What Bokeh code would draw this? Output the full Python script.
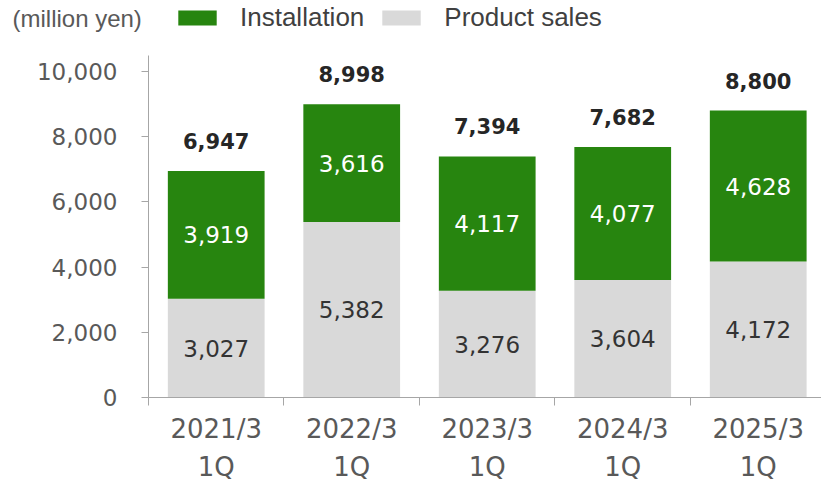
from bokeh.plotting import figure
from bokeh.models import (Range1d, FixedTicker, Legend, LegendItem, Label,
                          ColumnDataSource, NumeralTickFormatter)
from bokeh.core.properties import value
from bokeh.embed import file_html
from bokeh.resources import INLINE

# ---- data ----
periods = ["2021/3\n1Q", "2022/3\n1Q", "2023/3\n1Q", "2024/3\n1Q", "2025/3\n1Q"]
product_sales = [3027, 5382, 3276, 3604, 4172]
installation = [3919, 3616, 4117, 4077, 4628]
totals = [6947, 8998, 7394, 7682, 8800]
y_ticks = [0, 2000, 4000, 6000, 8000, 10000]

GREEN = "#27850f"
GRAY = "#d9d9d9"
AXIS = "#a6a6a6"
NUMFONT = "DejaVu Sans"

xs = list(range(len(periods)))
src = ColumnDataSource(dict(
    x=xs,
    product=product_sales,
    install=installation,
    total=totals,
    prod_mid=[p / 2 for p in product_sales],
    inst_mid=[p + i / 2 for p, i in zip(product_sales, installation)],
    prod_txt=[f"{v:,}" for v in product_sales],
    inst_txt=[f"{v:,}" for v in installation],
    tot_txt=[f"{v:,}" for v in totals],
))

p = figure(width=821, height=479, output_backend="svg", toolbar_location=None,
           x_range=Range1d(-1.592, 4.467), y_range=Range1d(-2515, 12178),
           min_border_left=0, min_border_right=0, min_border_top=0,
           min_border_bottom=0)
p.outline_line_color = None
p.grid.visible = False
p.background_fill_color = "white"
p.border_fill_color = "white"

renderers = p.vbar_stack(["product", "install"], x="x", width=0.714,
                         color=[GRAY, GREEN], line_color=None, source=src)

# value labels
p.text(x="x", y="prod_mid", text="prod_txt", source=src, text_align="center",
       text_baseline="middle", text_font=value(NUMFONT), text_font_size="23px",
       text_color="#333333")
p.text(x="x", y="inst_mid", text="inst_txt", source=src, text_align="center",
       text_baseline="middle", text_font=value(NUMFONT), text_font_size="23px",
       text_color="white")
p.text(x="x", y="total", text="tot_txt", source=src, text_align="center",
       text_baseline="middle", y_offset=-30, text_font=value(NUMFONT),
       text_font_size="21px", text_font_style="bold", text_color="#262626")

# y axis pinned at the left edge of the first category
yax = p.yaxis[0]
yax.fixed_location = -0.5
yax.ticker = FixedTicker(ticks=y_ticks)
yax.formatter = NumeralTickFormatter(format="0,0")
yax.bounds = (0, 10500)
yax.axis_line_color = AXIS
yax.major_tick_line_color = AXIS
yax.major_tick_out = 7
yax.major_tick_in = 0
yax.minor_tick_line_color = None
yax.major_label_text_font = NUMFONT
yax.major_label_text_font_size = "23px"
yax.major_label_text_color = "#595959"
yax.major_label_standoff = 24

# x axis pinned at y = 0
xax = p.xaxis[0]
xax.fixed_location = 0
xax.bounds = (-0.5, 4.467)
xax.ticker = FixedTicker(ticks=xs, minor_ticks=[i - 0.5 for i in range(len(xs) + 1)])
xax.major_label_overrides = {i: lab for i, lab in enumerate(periods)}
xax.axis_line_color = AXIS
xax.major_tick_line_color = None
xax.major_tick_out = 0
xax.major_tick_in = 0
xax.minor_tick_line_color = AXIS
xax.minor_tick_out = 8
xax.minor_tick_in = 0
xax.major_label_text_font = NUMFONT
xax.major_label_text_font_size = "26px"
xax.major_label_text_color = "#595959"
xax.major_label_text_line_height = 1.29
xax.major_label_standoff = 8

# legend
legend = Legend(items=[LegendItem(label="Installation", renderers=[renderers[1]]),
                       LegendItem(label="Product sales", renderers=[renderers[0]])],
                orientation="horizontal", location=(173, 446),
                label_text_font="Liberation Sans", label_text_font_size="26px",
                label_text_color="#404040", glyph_width=48, glyph_height=19,
                label_standoff=19, spacing=13, padding=0, margin=0,
                border_line_color=None, background_fill_alpha=0,
                label_height=19)
p.add_layout(legend, "center")

p.add_layout(Label(x=12, y=461, x_units="screen", y_units="screen",
                   text="(million yen)", text_font="Liberation Sans",
                   text_font_size="24px", text_color="#595959",
                   text_baseline="middle"))

open("out.html", "w").write(file_html(p, INLINE))
